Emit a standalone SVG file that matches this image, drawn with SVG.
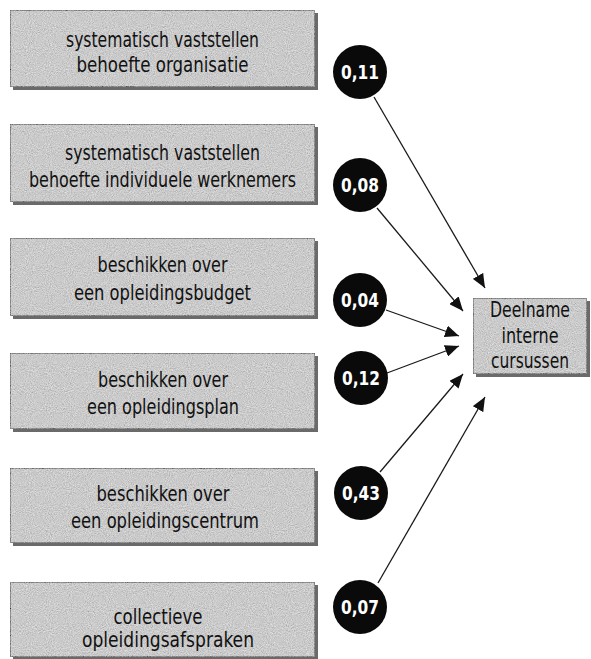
<svg xmlns="http://www.w3.org/2000/svg" width="591" height="659" viewBox="0 0 591 659">
<defs>
<style>
.box{fill:#c4c4c4;stroke:#3a3a3a;stroke-width:1.5;filter:url(#grain)}
.shadow{fill:#6a6a6a}
.lbl{font-family:"DejaVu Sans",sans-serif;font-stretch:condensed;font-size:21px;fill:#111;text-anchor:middle}
.circ{fill:#0a0a0a}
.num{font-family:"DejaVu Sans",sans-serif;font-stretch:condensed;font-weight:bold;font-size:20px;fill:#ffffff;text-anchor:middle}
.conn{stroke:#1a1a1a;stroke-width:1.3;fill:none;marker-end:url(#arr)}
</style>
<filter id="grain" x="0" y="0" width="100%" height="100%">
<feTurbulence type="fractalNoise" baseFrequency="0.95" numOctaves="2" seed="4" result="n"/>
<feColorMatrix in="n" type="matrix" values="0.33 0.33 0.33 0 0 0.33 0.33 0.33 0 0 0.33 0.33 0.33 0 0 0 0 0 0 1" result="g"/>
<feComposite in="g" in2="SourceGraphic" operator="arithmetic" k1="0" k2="0.8" k3="0.75" k4="-0.22" result="m"/>
<feComposite in="m" in2="SourceAlpha" operator="in"/>
</filter>
<marker id="arr" viewBox="0 0 14 12" refX="14" refY="6" markerWidth="14" markerHeight="12" markerUnits="userSpaceOnUse" orient="auto">
<path d="M0,0 L14,6 L0,12 Z" fill="#111"/>
</marker>
</defs>

<g id="connectors">
<line class="conn" x1="374" y1="97" x2="485" y2="288"/>
<line class="conn" x1="377" y1="208" x2="463" y2="311"/>
<line class="conn" x1="386" y1="310" x2="459" y2="336"/>
<line class="conn" x1="387" y1="373" x2="459" y2="346"/>
<line class="conn" x1="380" y1="472" x2="463" y2="374"/>
<line class="conn" x1="378" y1="583" x2="485" y2="397"/>
</g>

<g id="n1">
<rect class="shadow" x="13" y="13" width="305" height="77"/>
<rect class="box" x="10" y="10" width="305" height="77"/>
<text class="lbl" x="162.5" y="47" textLength="193" lengthAdjust="spacingAndGlyphs">systematisch vaststellen</text>
<text class="lbl" x="162.5" y="72" textLength="172" lengthAdjust="spacingAndGlyphs">behoefte organisatie</text>
</g>
<g id="n2">
<rect class="shadow" x="13" y="127" width="305" height="78"/>
<rect class="box" x="10" y="124" width="305" height="78"/>
<text class="lbl" x="162.5" y="160" textLength="195" lengthAdjust="spacingAndGlyphs">systematisch vaststellen</text>
<text class="lbl" x="162.5" y="187" textLength="267" lengthAdjust="spacingAndGlyphs">behoefte individuele werknemers</text>
</g>
<g id="n3">
<rect class="shadow" x="13" y="241" width="305" height="78"/>
<rect class="box" x="10" y="238" width="305" height="78"/>
<text class="lbl" x="162.5" y="272" textLength="130" lengthAdjust="spacingAndGlyphs">beschikken over</text>
<text class="lbl" x="162.5" y="300" textLength="177" lengthAdjust="spacingAndGlyphs">een opleidingsbudget</text>
</g>
<g id="n4">
<rect class="shadow" x="13" y="356" width="305" height="76"/>
<rect class="box" x="10" y="353" width="305" height="76"/>
<text class="lbl" x="163" y="387" textLength="130" lengthAdjust="spacingAndGlyphs">beschikken over</text>
<text class="lbl" x="163" y="414" textLength="152" lengthAdjust="spacingAndGlyphs">een opleidingsplan</text>
</g>
<g id="n5">
<rect class="shadow" x="13" y="471" width="305" height="75"/>
<rect class="box" x="10" y="468" width="305" height="75"/>
<text class="lbl" x="163" y="501" textLength="133" lengthAdjust="spacingAndGlyphs">beschikken over</text>
<text class="lbl" x="165" y="528" textLength="188" lengthAdjust="spacingAndGlyphs">een opleidingscentrum</text>
</g>
<g id="n6">
<rect class="shadow" x="13" y="585" width="305" height="75"/>
<rect class="box" x="10" y="582" width="305" height="75"/>
<text class="lbl" x="158" y="624" textLength="89" lengthAdjust="spacingAndGlyphs">collectieve</text>
<text class="lbl" x="168" y="647" textLength="172" lengthAdjust="spacingAndGlyphs">opleidingsafspraken</text>
</g>

<g id="target">
<rect class="shadow" x="476" y="301" width="114" height="76"/>
<rect class="box" x="473" y="298" width="114" height="76"/>
<text class="lbl" x="530" y="317" textLength="80" lengthAdjust="spacingAndGlyphs">Deelname</text>
<text class="lbl" x="530" y="343" textLength="57" lengthAdjust="spacingAndGlyphs">interne</text>
<text class="lbl" x="530" y="368" textLength="78" lengthAdjust="spacingAndGlyphs">cursussen</text>
</g>

<g id="w1"><circle class="circ" cx="360" cy="72" r="27"/><text class="num" x="360" y="79" textLength="38" lengthAdjust="spacingAndGlyphs">0,11</text></g>
<g id="w2"><circle class="circ" cx="360" cy="185" r="27"/><text class="num" x="360" y="192" textLength="38" lengthAdjust="spacingAndGlyphs">0,08</text></g>
<g id="w3"><circle class="circ" cx="360" cy="300" r="27"/><text class="num" x="360" y="307" textLength="38" lengthAdjust="spacingAndGlyphs">0,04</text></g>
<g id="w4"><circle class="circ" cx="361" cy="378" r="27"/><text class="num" x="361" y="385" textLength="38" lengthAdjust="spacingAndGlyphs">0,12</text></g>
<g id="w5"><circle class="circ" cx="361" cy="493" r="27"/><text class="num" x="361" y="500" textLength="38" lengthAdjust="spacingAndGlyphs">0,43</text></g>
<g id="w6"><circle class="circ" cx="360" cy="607" r="27"/><text class="num" x="360" y="614" textLength="38" lengthAdjust="spacingAndGlyphs">0,07</text></g>
</svg>
